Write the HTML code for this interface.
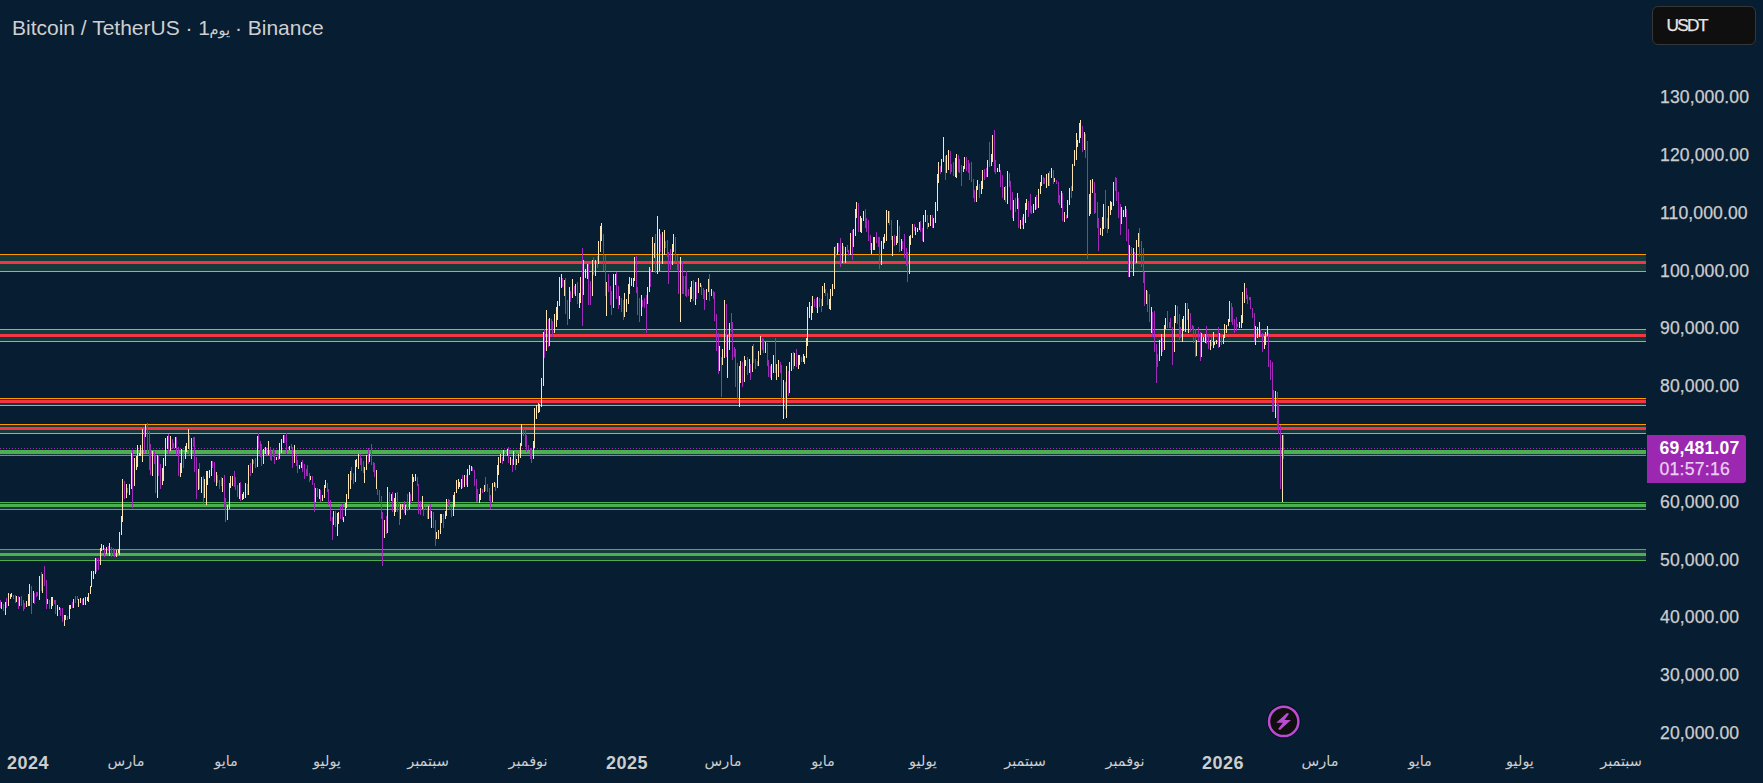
<!DOCTYPE html>
<html lang="ar" dir="ltr">
<head>
<meta charset="utf-8">
<title>Bitcoin / TetherUS</title>
<style>
html,body{margin:0;padding:0;background:#071d32;}
body{width:1763px;height:783px;position:relative;overflow:hidden;font-family:"Liberation Sans","DejaVu Sans",sans-serif;}
#chart{position:absolute;left:0;top:0;}
.title{position:absolute;left:12px;top:15px;font-size:21px;line-height:26px;color:#cfcfcf;white-space:nowrap;}
.title .ar{font-size:14.5px;margin:0 -0.9px 0 -0.6px;}
.yl{position:absolute;left:1660px;width:100px;height:22px;line-height:22px;font-size:17.6px;color:#cdcdcd;white-space:nowrap;letter-spacing:0.1px;-webkit-text-stroke:0.25px #cdcdcd;}
.xl{position:absolute;top:749px;width:100px;height:24px;line-height:24px;text-align:center;font-size:14.5px;color:#cdcdcd;white-space:nowrap;}
.xl.b{font-weight:bold;font-size:18px;letter-spacing:0.5px;top:751px;}
.cur{position:absolute;left:1652px;top:5.5px;width:102px;height:37.5px;border:1px solid #363636;border-radius:6px;background:#0f0f0f;color:#e6e6e6;font-size:17.3px;line-height:37px;letter-spacing:-1.7px;-webkit-text-stroke:0.25px #e6e6e6;}
.cur span{margin-left:13.5px;}
.plabel{position:absolute;left:1647px;top:435px;width:99px;height:48px;background:#9c27b0;border-radius:0 3px 3px 0;color:#fff;font-size:17.6px;}
.plabel div{position:absolute;left:12.5px;white-space:nowrap;line-height:20px;}
.plabel .p1{top:3px;font-weight:bold;letter-spacing:0.2px;}
.plabel .p2{top:24px;color:#ead0f0;letter-spacing:0.25px;-webkit-text-stroke:0.25px #ead0f0;}
</style>
</head>
<body>
<svg id="chart" width="1763" height="783" viewBox="0 0 1763 783" shape-rendering="crispEdges">
<g id="bands">
<rect x="0" y="254" width="1646" height="18" fill="#153a39"/>
<rect x="0" y="254" width="1646" height="1" fill="#ff9800"/>
<rect x="0" y="271" width="1646" height="1" fill="#ff9800"/>
<rect x="0" y="261" width="1646" height="3" fill="#f23645"/>
<rect x="0" y="329" width="1646" height="13" fill="#153a39"/>
<rect x="0" y="329" width="1646" height="1" fill="#ff9800"/>
<rect x="0" y="341" width="1646" height="1" fill="#ff9800"/>
<rect x="0" y="334" width="1646" height="3" fill="#f23645"/>
<rect x="0" y="398" width="1646" height="8" fill="#153a39"/>
<rect x="0" y="398" width="1646" height="1" fill="#ff9800"/>
<rect x="0" y="405" width="1646" height="1" fill="#ff9800"/>
<rect x="0" y="400" width="1646" height="3" fill="#f23645"/>
<rect x="0" y="424" width="1646" height="10" fill="#153a39"/>
<rect x="0" y="424" width="1646" height="1" fill="#ff9800"/>
<rect x="0" y="433" width="1646" height="1" fill="#ff9800"/>
<rect x="0" y="427" width="1646" height="3" fill="#f23645"/>
<rect x="0" y="450" width="1646" height="6" fill="#153a39"/>
<rect x="0" y="450" width="1646" height="1" fill="#4caf50"/>
<rect x="0" y="455" width="1646" height="1" fill="#4caf50"/>
<rect x="0" y="451" width="1646" height="3" fill="#4caf50"/>
<rect x="0" y="502" width="1646" height="8" fill="#153a39"/>
<rect x="0" y="502" width="1646" height="1" fill="#4caf50"/>
<rect x="0" y="509" width="1646" height="1" fill="#4caf50"/>
<rect x="0" y="504" width="1646" height="3" fill="#4caf50"/>
<rect x="0" y="549" width="1646" height="12" fill="#153a39"/>
<rect x="0" y="549" width="1646" height="1" fill="#4caf50"/>
<rect x="0" y="560" width="1646" height="1" fill="#4caf50"/>
<rect x="0" y="553" width="1646" height="3" fill="#4caf50"/>
</g>
<line x1="0" y1="448.5" x2="1646" y2="448.5" stroke="#a62dbf" stroke-width="1" stroke-dasharray="1 2"/>
<g id="candles" fill="none" stroke-width="1" transform="translate(0.5 0)">
<path d="M0 600v8M3 604v7M6 598v10M13 595v4M15 595v8M18 596v13M21 596v10M23 600v11M24 603v6M31 586v28M34 593v11M36 592v5M37 592v4M41 572v19M44 566v20M46 580v29M49 600v9M54 600v4M55 600v14M60 608v8M62 608v14M67 616v4M72 602v6M75 596v7M77 596v4M82 599v6M96 558v14M98 558v12M104 548v9M108 546v5M111 547v10M113 548v7M114 550v7M124 481v18M127 488v5M132 450v58M144 427v26M147 423v30M149 431v39M150 444v31M154 451v13M155 456v37M158 455v21M160 464v25M168 434v20M172 439v10M173 443v5M176 437v18M178 447v29M183 452v16M189 435v20M193 437v10M194 437v35M196 457v42M199 463v26M203 476v28M212 461v7M214 462v20M217 475v8M219 480v9M221 477v9M224 475v32M225 498v24M234 471v16M235 477v13M237 485v12M240 482v19M247 484v11M250 463v13M253 460v4M255 458v10M258 433v16M260 441v16M261 444v22M266 448v7M270 447v13M271 451v10M273 448v9M274 450v14M278 454v6M284 435v8M286 433v21M288 447v2M291 444v5M292 447v21M296 454v12M297 460v13M302 460v12M304 464v15M306 469v7M307 465v11M309 473v9M312 476v9M314 483v29M317 488v9M320 490v12M327 483v9M328 489v16M330 500v21M332 517v23M335 511v16M340 506v13M342 504v16M351 467v13M353 473v11M360 454v11M361 458v13M363 461v12M368 448v16M371 444v21M373 462v10M374 463v14M377 489v6M379 490v13M381 496v23M382 512v54M386 516v18M389 492v13M392 492v20M397 492v20M399 503v22M404 501v12M407 494v17M410 494v10M417 477v9M418 484v30M420 501v14M423 504v12M425 507v3M427 508v11M430 504v14M433 512v16M435 520v26M443 514v14M448 499v7M449 500v10M451 507v10M462 475v13M466 475v10M472 467v4M474 470v16M476 479v23M477 489v13M482 489v4M485 477v14M487 484v8M489 488v13M490 495v14M495 483v8M502 457v7M505 452v3M508 447v16M512 459v13M515 452v18M523 428v8M525 429v18M526 435v17M528 445v5M530 448v11M531 448v15M544 329v29M548 319v28M551 319v10M552 321v16M562 278v9M565 278v36M567 300v25M570 291v11M574 286v8M577 282v22M582 248v78M588 264v41M590 281v24M593 257v18M597 256v12M603 234v37M605 255v41M608 274v18M610 286v19M611 291v24M616 272v27M618 286v23M621 298v14M623 300v20M636 256v37M637 287v28M639 298v24M642 300v7M644 298v10M646 295v38M650 269v18M655 234v39M660 234v18M665 241v7M667 240v17M668 252v32M670 249v21M675 237v25M677 255v15M678 263v31M682 261v33M683 276v18M685 276v20M686 271v26M688 289v7M693 280v21M696 282v17M701 285v10M703 288v11M704 290v20M709 274v27M713 291v8M714 292v29M716 314v37M718 333v41M721 357v40M726 304v53M731 313v19M732 322v38M734 347v10M735 349v38M737 363v39M742 362v25M747 357v18M750 364v16M753 344v19M755 359v10M757 361v5M762 338v12M763 339v14M767 343v23M768 360v17M770 366v12M775 338v35M780 362v11M781 365v38M785 382v27M788 371v25M793 352v17M796 349v18M801 357v5M814 299v8M816 298v10M819 298v9M821 299v13M825 289v7M827 293v12M835 246v12M838 243v9M840 238v29M843 246v10M847 245v7M848 250v6M852 230v30M858 203v29M865 209v19M866 218v14M868 220v21M870 235v15M876 232v11M878 237v10M879 237v32M889 211v14M891 220v20M894 235v11M899 226v26M902 241v8M904 234v24M906 248v18M907 252v30M914 224v7M920 221v11M922 228v13M927 215v14M932 215v13M940 166v8M945 156v24M950 151v23M951 164v8M953 162v14M958 155v17M959 159v14M961 165v21M966 157v14M968 160v13M969 163v17M971 162v20M973 179v19M974 190v12M979 184v14M984 169v11M986 168v9M989 142v25M994 130v42M995 160v14M1000 170v17M1002 175v23M1005 186v16M1009 173v14M1010 181v29M1012 192v26M1015 198v14M1018 198v30M1022 217v8M1028 201v16M1030 194v19M1031 206v8M1036 195v14M1043 177v7M1044 178v6M1049 171v15M1053 170v14M1056 180v4M1058 182v21M1059 195v10M1062 193v28M1066 215v4M1071 186v12M1082 126v26M1085 134v24M1087 141v118M1094 182v32M1095 193v20M1097 202v26M1098 218v33M1105 190v38M1107 218v15M1115 177v14M1116 178v23M1118 192v26M1120 204v31M1126 209v32M1128 229v48M1131 247v22M1134 252v11M1139 228v29M1141 241v26M1143 248v35M1144 272v34M1147 291v21M1149 294v28M1152 312v25M1154 311v41M1156 344v39M1157 354v13M1162 338v14M1167 311v17M1169 322v6M1170 318v10M1172 327v38M1177 306v18M1179 314v26M1180 327v11M1187 303v17M1190 313v19M1192 325v5M1193 326v17M1195 329v28M1198 327v14M1200 332v29M1206 326v18M1208 335v14M1211 337v9M1218 327v21M1221 334v11M1231 303v19M1232 307v18M1234 319v14M1236 317v14M1237 324v3M1246 288v11M1247 295v9M1249 297v3M1250 297v12M1252 308v10M1254 313v28M1260 329v6M1262 333v19M1268 333v34M1270 360v20M1272 362v50M1273 390v22M1277 392v36M1278 404v30M1280 425v64M1283 435v24" stroke="#a22abb"/>
<path d="M1 602v7M5 602v13M8 593v13M10 594v5M11 593v4M16 596v6M19 597v9M26 601v6M28 594v12M29 584v22M33 591v12M39 576v24M42 574v19M47 599v5M51 597v12M52 597v9M57 605v11M59 607v3M64 615v11M65 615v5M69 605v14M70 605v4M73 599v9M78 599v8M80 598v5M83 598v7M85 597v8M87 597v4M88 593v9M90 586v8M91 571v16M93 571v8M95 558v16M100 548v17M101 544v7M103 545v5M106 547v7M109 543v13M116 550v7M118 549v4M119 532v23M121 516v19M122 479v43M126 484v14M129 484v11M131 453v36M134 458v28M136 456v14M137 445v22M139 453v3M140 445v11M142 429v33M145 424v13M152 451v25M157 455v43M162 468v17M163 458v23M165 438v28M167 436v13M170 436v15M175 437v11M180 463v14M181 449v24M185 446v13M186 443v9M188 429v20M191 438v21M198 469v21M201 477v16M204 479v19M206 471v34M207 471v14M209 470v8M211 461v15M216 472v14M222 478v14M227 505v15M229 483v26M230 476v12M232 476v10M239 483v16M242 494v6M243 492v7M245 483v15M248 465v30M252 459v14M257 436v31M263 449v15M265 447v7M268 441v14M276 457v3M279 443v16M281 439v14M283 435v8M289 446v4M294 445v18M299 465v4M301 462v6M310 476v4M315 488v14M319 489v10M322 495v6M324 485v13M325 480v8M333 511v14M337 513v23M338 512v12M343 517v5M345 503v13M346 494v14M348 474v25M350 471v18M355 460v22M356 459v8M358 454v15M364 467v16M366 455v15M369 454v8M376 470v19M384 520v18M387 487v46M391 494v7M394 498v18M395 493v19M400 504v15M402 504v5M405 505v10M409 492v17M412 474v27M413 477v5M415 474v7M422 496v13M428 506v13M431 511v17M436 532v7M438 530v9M440 514v20M441 514v9M445 511v8M446 499v17M453 495v21M454 492v15M456 480v13M458 479v10M459 482v5M461 479v10M464 475v12M467 469v18M469 465v10M471 466v5M479 494v9M480 488v12M484 485v7M492 483v19M494 482v5M497 465v23M498 457v18M500 454v9M503 450v11M507 449v7M510 457v8M513 451v14M516 459v6M518 454v9M520 443v15M521 424v22M533 441v18M534 408v40M536 405v14M538 403v10M539 404v8M541 378v29M543 332v54M546 310v41M549 318v28M554 314v19M556 307v20M557 301v19M559 277v29M561 274v14M564 280v16M569 287v32M572 279v19M575 284v12M579 293v15M580 277v26M583 260v35M585 269v9M587 264v15M592 260v36M595 260v16M598 241v23M600 226v26M601 223v18M606 282v34M613 274v34M615 274v11M619 296v9M624 293v24M626 299v13M628 284v20M629 277v17M631 278v8M633 278v9M634 257v24M641 295v21M647 287v17M649 267v25M652 237v35M654 243v15M657 216v58M659 229v42M662 232v32M664 230v25M672 244v21M673 234v18M680 257v65M690 287v15M691 281v18M695 282v23M698 278v15M700 283v4M706 289v11M708 279v13M711 289v7M719 346v25M722 349v16M724 300v58M727 335v43M729 323v27M739 366v41M740 361v22M744 356v26M745 360v6M749 359v14M752 346v26M758 351v15M760 336v19M765 342v11M771 364v16M773 355v18M776 364v16M778 360v17M783 380v39M786 366v52M789 362v31M791 353v18M794 353v13M798 355v14M799 355v10M803 354v8M804 356v8M806 338v20M807 307v39M809 302v16M811 306v14M812 296v17M817 297v16M822 286v20M824 283v10M829 299v10M830 289v21M832 284v12M834 247v42M837 243v12M842 243v20M845 247v16M850 233v22M853 229v18M855 209v27M856 202v16M860 216v16M861 218v15M863 211v10M871 243v11M873 237v13M874 237v13M881 241v24M883 237v12M884 234v9M886 210v31M888 211v12M892 236v20M896 236v9M897 220v23M901 239v12M909 236v38M910 235v10M912 224v14M915 227v8M917 228v4M919 222v8M923 215v27M925 210v12M928 223v4M930 215v11M933 218v10M935 202v21M937 174v37M938 162v21M941 159v13M943 137v25M946 155v18M948 150v20M955 158v19M956 154v24M963 166v6M964 157v12M976 186v16M977 180v10M981 181v13M982 170v19M987 160v17M991 154v12M992 135v27M997 168v4M999 164v8M1004 187v13M1007 171v33M1013 200v21M1017 193v16M1020 220v9M1023 214v15M1025 203v20M1026 199v11M1033 204v9M1035 197v13M1038 189v19M1040 182v12M1041 175v11M1046 174v14M1048 173v13M1051 168v10M1054 178v4M1061 191v17M1064 212v10M1067 200v18M1069 188v17M1072 164v27M1074 150v16M1076 133v27M1077 140v7M1079 123v20M1080 120v18M1084 132v18M1089 194v22M1090 180v34M1092 179v14M1100 228v7M1102 217v19M1103 204v25M1108 206v23M1110 201v14M1111 202v8M1113 182v24M1121 207v17M1123 210v7M1125 206v11M1129 245v32M1133 248v28M1136 240v23M1138 233v14M1146 290v14M1151 307v26M1159 340v21M1161 334v22M1164 325v25M1165 318v11M1174 316v36M1175 305v18M1182 319v23M1183 316v15M1185 303v29M1188 309v24M1196 340v16M1201 333v24M1203 337v5M1205 334v9M1210 340v10M1213 332v16M1214 342v3M1216 340v4M1219 333v14M1223 335v9M1224 324v14M1226 325v8M1228 319v7M1229 301v21M1239 322v6M1241 315v13M1242 292v31M1244 283v20M1255 326v19M1257 327v11M1259 322v15M1264 336v13M1265 332v13M1267 326v10M1275 391v27M1282 435v67" stroke="#fbe3b2"/>
</g>
<g shape-rendering="geometricPrecision">
<circle cx="1283.7" cy="721.4" r="16.9" fill="#040e1c"/>
<circle cx="1283.7" cy="721.4" r="14.7" fill="#0f0f0f" stroke="#ba4cd2" stroke-width="2.5"/>
<polygon points="1289.08,713.77 1286.93,713 1276.2,722.82 1282.94,722.82 1278.11,728.96 1280.03,730.03 1291,720.06 1284.48,720.06" fill="#ba4cd2"/>
</g>
</svg>
<div class="title">Bitcoin / TetherUS · 1<span class="ar">يوم</span> · Binance</div>
<div class="cur"><span>USDT</span></div>
<div class="yl" style="top:86px">130,000.00</div>
<div class="yl" style="top:144px">120,000.00</div>
<div class="yl" style="top:202px">110,000.00</div>
<div class="yl" style="top:260px">100,000.00</div>
<div class="yl" style="top:317px">90,000.00</div>
<div class="yl" style="top:375px">80,000.00</div>
<div class="yl" style="top:491px">60,000.00</div>
<div class="yl" style="top:549px">50,000.00</div>
<div class="yl" style="top:606px">40,000.00</div>
<div class="yl" style="top:664px">30,000.00</div>
<div class="yl" style="top:722px">20,000.00</div>
<div class="plabel"><div class="p1">69,481.07</div><div class="p2">01:57:16</div></div>
<div class="xl b" style="left:-22px">2024</div>
<div class="xl" style="left:76px">مارس</div>
<div class="xl" style="left:176px">مايو</div>
<div class="xl" style="left:277px">يوليو</div>
<div class="xl" style="left:378px">سبتمبر</div>
<div class="xl" style="left:478px">نوفمبر</div>
<div class="xl b" style="left:577px">2025</div>
<div class="xl" style="left:673px">مارس</div>
<div class="xl" style="left:773px">مايو</div>
<div class="xl" style="left:873px">يوليو</div>
<div class="xl" style="left:975px">سبتمبر</div>
<div class="xl" style="left:1075px">نوفمبر</div>
<div class="xl b" style="left:1173px">2026</div>
<div class="xl" style="left:1270px">مارس</div>
<div class="xl" style="left:1370px">مايو</div>
<div class="xl" style="left:1470px">يوليو</div>
<div class="xl" style="left:1571px">سبتمبر</div>
</body>
</html>
